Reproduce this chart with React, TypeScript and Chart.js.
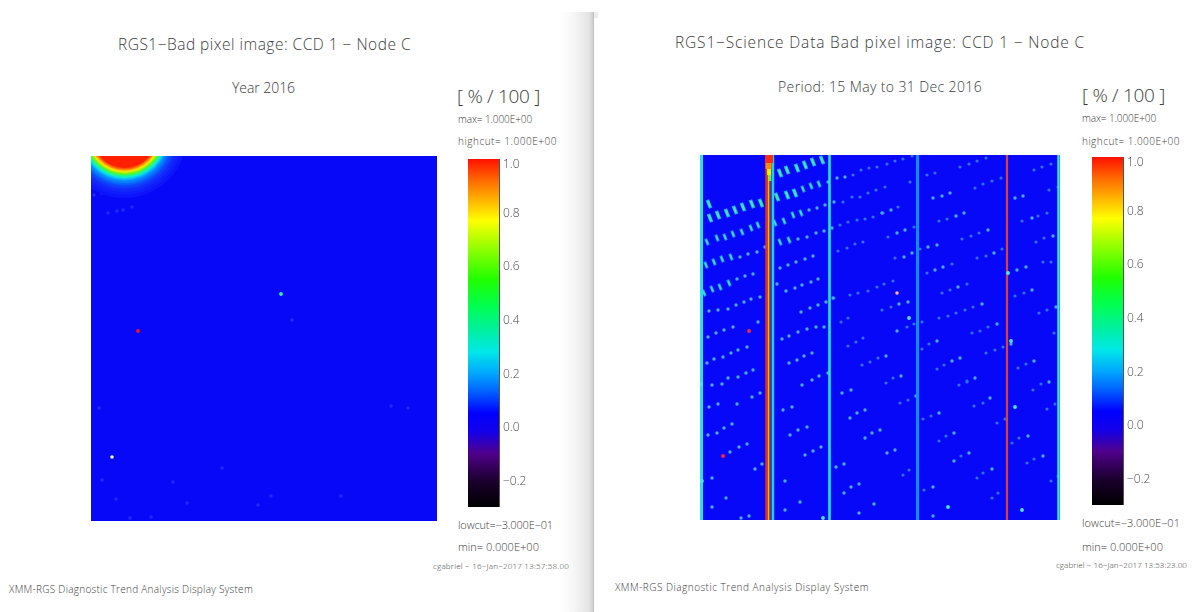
import React, { useEffect, useLayoutEffect, useRef } from "react";
import { Chart, registerables } from "chart.js";
Chart.register(...registerables);

type P = [number, number];

// ---- Colour bar
const barRange: number[] = [-0.3, 1.0];
const barTicks: number[] = [-0.2, 0, 0.2, 0.4, 0.6, 0.8, 0.982];
const barTickLabels: string[] = ["\u22120.2", "0.0", "0.2", "0.4", "0.6", "0.8", "1.0"];
const barStopValues: number[] = [-0.3, -0.2, -0.1, -0.02, 0.05, 0.13, 0.2, 0.28, 0.36, 0.45, 0.55, 0.68, 0.77, 0.85, 0.92, 1.0];
const barStopColors: string[] = ["#000000", "#1c0030", "#50008c", "#1400e8", "#0000ff", "#0060ff", "#00a8ff", "#00e8e8", "#00f0a0", "#00ff50", "#20ff00", "#a0ff00", "#ffff00", "#ffb000", "#ff6a00", "#ff1000"];

// ---- Left panel: hot-corner rings (value bands around the corner)
const ringCentre: P = [33.5, -20];
const ringRadii: number[] = [62, 59, 56, 53, 51, 49, 47, 45, 44, 43, 42, 41, 40, 39, 38, 37, 36, 35, 34, 33, 32];
const ringColors: string[] = ["#0c14fa", "#0f1cfb", "#1228fb", "#1038fb", "#0c48fc", "#0a62fd", "#0880fd", "#0898fd", "#08b4fb", "#08d0f0", "#10e8d0", "#20f4a0", "#30f870", "#50f830", "#90f010", "#d0f000", "#ffe000", "#ffb000", "#ff8000", "#ff5000", "#ff2000"];
const leftFaintSpots: P[] = [[3, 39], [11, 37], [19, 34], [26, 31], [34, 27], [42, 24], [51, 22], [59, 22], [67, 19], [75, 16], [17, 57], [26, 55], [32, 54], [41, 51], [201, 164], [167, 349], [131, 312], [82, 326], [25, 343], [96, 347], [11, 324], [8, 252], [39, 362], [60, 361], [300, 250], [317, 252], [180, 340], [250, 340]];
const leftCyanSpots: P[] = [[190, 138]];
const leftRedSpots: P[] = [[47, 175]];
const leftWhiteSpots: P[] = [[21, 301]];

// ---- Right panel: detector columns
const stripeX: number[] = [1.5, 66.5, 68.2, 69.4, 70.8, 72.8, 129.5, 217.5, 307, 358.5];
const stripeColors: string[] = ["#28e0f0", "#f03010", "#f8e000", "#f03010", "#0838f8", "#20d0e8", "#20e8b8", "#0890f4", "#e04030", "#38e8ff"];
const stripeWidths: number[] = [3, 2.4, 1.4, 1.8, 1.4, 2.8, 2.6, 3, 2.2, 2.4];
const capX: number[] = [69, 68.5, 69, 70];
const capEnd: number[] = [8, 14, 20, 26];
const capColors: string[] = ["#ff2a10", "#ff8a00", "#e8f000", "#70f040"];
const capWidths: number[] = [8, 6, 4, 2.5];

// ---- Right panel: bright slanted spots
const brightSpots: P[] = [[80, 18], [87, 15], [97, 13], [105, 10], [113, 7], [122, 5], [9, 49], [10, 63], [18, 60], [27, 58], [35, 55], [43, 52], [52, 49], [61, 48], [77, 42], [87, 40], [95, 38]];
const midSpots: P[] = [[103, 34], [111, 31], [119, 29], [7, 87], [17, 83], [25, 82], [33, 79], [42, 77], [51, 73], [58, 70], [75, 68], [84, 66], [93, 60], [101, 58], [6, 110], [14, 107], [22, 104], [31, 102], [4, 138], [12, 134], [20, 132], [29, 128], [80, 87], [89, 85]];
const softSpots: P[] = [[128, 27], [137, 23], [145, 22], [109, 55], [117, 53], [125, 50], [134, 47], [40, 102], [48, 99], [57, 97], [65, 92], [98, 84], [107, 82], [116, 78], [124, 76], [132, 73], [80, 113], [88, 110], [96, 107], [105, 104], [113, 101], [37, 124], [45, 121], [53, 119], [9, 156], [18, 155], [28, 154], [36, 150], [44, 147], [51, 144], [60, 142], [8, 182], [16, 178], [24, 175], [33, 172], [58, 167], [7, 208], [14, 204], [23, 202], [31, 198], [38, 195], [47, 192], [12, 230], [22, 229], [28, 223], [38, 222], [46, 218], [53, 215], [77, 129], [86, 136], [95, 133], [102, 130], [111, 127], [118, 124], [101, 157], [110, 153], [118, 150], [126, 147], [133, 143], [82, 184], [89, 181], [98, 177], [107, 174], [116, 172], [124, 172], [89, 208], [97, 205], [104, 201], [112, 198], [102, 230], [112, 225], [119, 221], [128, 218], [9, 252], [18, 249], [37, 249], [8, 280], [17, 278], [24, 273], [32, 269], [30, 297], [39, 292], [47, 289], [55, 314], [62, 309], [12, 323], [26, 343], [12, 352], [41, 363], [49, 361], [60, 238], [52, 242], [83, 255], [92, 252], [90, 280], [98, 275], [107, 272], [121, 292], [113, 296], [105, 300], [85, 326], [100, 347], [85, 355], [136, 312], [144, 309], [144, 338], [151, 332], [159, 329], [174, 349], [159, 358], [142, 238], [151, 235], [150, 263], [157, 258], [165, 255], [165, 283], [172, 278], [180, 275], [187, 298], [216, 241], [239, 258], [254, 278], [195, 295], [269, 298], [254, 306], [290, 243], [343, 301], [328, 281], [292, 314], [233, 332], [233, 361], [197, 176], [199, 149], [208, 147], [258, 132], [282, 149], [297, 169], [237, 186], [311, 189], [332, 135], [260, 203], [252, 206], [334, 206], [186, 201], [201, 221], [275, 223], [349, 227], [356, 152], [250, 38], [242, 41], [233, 43], [264, 58], [256, 61], [315, 43], [323, 41], [332, 63], [205, 75], [197, 78], [288, 75], [237, 90], [228, 92], [353, 81], [294, 98], [243, 112], [235, 115], [317, 115], [326, 112], [212, 98], [204, 102], [182, 58], [191, 55]];
const faintSpots: P[] = [[140, 70], [148, 67], [157, 65], [165, 64], [173, 62], [183, 58], [138, 96], [147, 93], [155, 89], [163, 87], [153, 20], [161, 15], [169, 13], [177, 12], [187, 9], [143, 47], [152, 42], [160, 42], [168, 38], [176, 35], [185, 32], [134, 143], [141, 167], [148, 163], [177, 132], [168, 136], [158, 138], [150, 140], [148, 191], [156, 187], [163, 183], [178, 203], [170, 207], [162, 210], [208, 245], [200, 248], [231, 261], [223, 264], [246, 281], [239, 286], [261, 301], [283, 248], [274, 251], [305, 264], [297, 268], [319, 283], [312, 288], [334, 304], [327, 308], [283, 318], [277, 323], [224, 335], [209, 315], [203, 320], [298, 338], [292, 343], [351, 326], [358, 321], [341, 229], [333, 235], [267, 227], [259, 230], [355, 249], [347, 254], [195, 6], [203, 4], [212, 1], [227, 20], [235, 18], [198, 52], [210, 27], [277, 6], [286, 3], [269, 9], [260, 12], [301, 23], [292, 26], [283, 29], [275, 33], [247, 64], [239, 66], [342, 12], [351, 9], [334, 15], [358, 32], [349, 35], [338, 61], [322, 66], [347, 58], [188, 82], [214, 72], [279, 78], [271, 81], [262, 84], [220, 94], [344, 83], [336, 87], [286, 101], [302, 94], [277, 103], [195, 103], [227, 118], [252, 109], [343, 107], [351, 107], [184, 129], [193, 126], [191, 152], [182, 155], [222, 167], [214, 169], [207, 172], [250, 135], [242, 138], [267, 129], [273, 152], [265, 155], [239, 163], [248, 161], [256, 158], [288, 172], [280, 176], [272, 178], [229, 189], [222, 194], [303, 192], [295, 195], [286, 198], [324, 138], [315, 141], [347, 155], [339, 158], [244, 210], [237, 214], [326, 209], [318, 213], [193, 223], [186, 228], [267, 226], [354, 178]];
const hotDots: P[] = [[248, 352], [322, 355], [209, 163], [308, 118], [315, 252], [123, 363], [311, 186], [2, 326], [1, 229]];
const redDots: P[] = [[49, 176], [23, 301]];
const pinkDots: P[] = [[197, 138]];

const pts = (list: P[]) => list.map(([x, y]) => ({ x, y }));

function dots(list: P[], color: string, radius: number) {
  return { data: pts(list), clip: 0, pointRadius: radius, pointBackgroundColor: color, pointBorderWidth: 0, pointStyle: "circle", showLine: false };
}
function slants(list: P[], color: string, radius: number, width: number) {
  return { data: pts(list), clip: 0, pointRadius: radius, pointStyle: "line", pointRotation: 68, pointBorderColor: color, pointBorderWidth: width, showLine: false };
}
function vline(x: number, y0: number, y1: number, color: string, width: number) {
  return { data: [{ x, y: y0 }, { x, y: y1 }], clip: 0, showLine: true, borderColor: color, borderWidth: width, pointRadius: 0 };
}

function panelOptions(w: number, h: number): any {
  return {
    responsive: false,
    animation: false,
    layout: { padding: 0, autoPadding: false },
    plugins: { legend: { display: false }, tooltip: { enabled: false }, title: { display: false } },
    scales: {
      x: { type: "linear", display: false, min: 0, max: w },
      y: { type: "linear", display: false, min: 0, max: h, reverse: true },
    },
  };
}

function useChart(ref: React.RefObject<HTMLCanvasElement | null>, make: () => any) {
  useEffect(() => {
    const chart = new Chart(ref.current as HTMLCanvasElement, make());
    return () => chart.destroy();
  }, []);
}

function LeftPanel() {
  const ref = useRef<HTMLCanvasElement>(null);
  useChart(ref, () => ({
    type: "scatter",
    data: {
      datasets: [
        dots(leftRedSpots, "#f00c34", 2),
        dots(leftWhiteSpots, "#f4f4c0", 1.8),
        dots(leftCyanSpots, "#38e8b0", 1.9),
        {
          data: ringRadii.map(() => ({ x: ringCentre[0], y: ringCentre[1] })),
          clip: 0,
          pointRadius: ringRadii,
          pointBackgroundColor: ringColors,
          pointBorderWidth: 0,
          showLine: false,
        },
        dots(leftFaintSpots, "#1e2cfe", 1.7),
      ],
    },
    options: panelOptions(346, 365),
  }));
  return <canvas ref={ref} width={346} height={365} style={{ position: "absolute", left: 91, top: 156, background: "#0808f8", filter: "blur(0.5px)" }} />;
}

function RightPanel() {
  const ref = useRef<HTMLCanvasElement>(null);
  useChart(ref, () => ({
    type: "scatter",
    data: {
      datasets: [
        dots(hotDots, "#48e8e8", 1.9),
        dots(redDots, "#f02840", 2),
        dots(pinkDots, "#ffb090", 1.8),
        ...capX.map((x, i) => vline(x, 0, capEnd[i], capColors[i], capWidths[i])),
        ...stripeX.map((x, i) => vline(x, 0, 365, stripeColors[i], stripeWidths[i])),
        slants(brightSpots, "#40f090", 3, 2),
        slants(brightSpots, "#20b0f8", 4.4, 3.6),
        slants(midSpots, "#38e0d0", 2.5, 1.8),
        slants(midSpots, "#1c80fc", 3.6, 3),
        dots(softSpots, "#48a8ff", 1.7),
        dots(faintSpots, "#3070ff", 1.6),
      ],
    },
    options: panelOptions(360, 365),
  }));
  return <canvas ref={ref} width={360} height={365} style={{ position: "absolute", left: 700, top: 155, background: "#0808f8", filter: "blur(0.5px)" }} />;
}

function ColourBar({ left, top, height }: { left: number; top: number; height: number }) {
  const ref = useRef<HTMLCanvasElement>(null);
  useChart(ref, () => ({
    type: "bar",
    data: {
      labels: ["value"],
      datasets: [
        {
          data: [barRange],
          barPercentage: 1,
          categoryPercentage: 1,
          backgroundColor: (c: any) => {
            const { chart } = c;
            if (!chart.chartArea) return "#000";
            const y = chart.scales.y;
            const g = chart.ctx.createLinearGradient(0, y.getPixelForValue(barRange[0]), 0, y.getPixelForValue(barRange[1]));
            barStopValues.forEach((v, i) => g.addColorStop((v - barRange[0]) / (barRange[1] - barRange[0]), barStopColors[i]));
            return g;
          },
        },
      ],
    },
    options: {
      responsive: false,
      animation: false,
      layout: { padding: 0 },
      plugins: { legend: { display: false }, tooltip: { enabled: false } },
      scales: {
        x: { display: false },
        y: {
          position: "right",
          min: barRange[0],
          max: barRange[1],
          grid: { display: false, drawTicks: false },
          border: { display: true, color: "#555555", width: 1 },
          afterBuildTicks: (s: any) => { s.ticks = barTicks.map((value) => ({ value })); },
          afterFit: (s: any) => { s.paddingTop = 0; s.paddingBottom = 0; s.width = 36; },
          ticks: {
            padding: 4,
            labelOffset: 1,
            autoSkip: false,
            color: "#4a4a4a",
            font: { family: "'Open Sans'", size: 12, weight: "300" },
            callback: (v: any) => barTickLabels[barTicks.indexOf(Number(v))],
          },
        },
      },
    },
  }));
  return <canvas ref={ref} width={67} height={height} style={{ position: "absolute", left, top }} />;
}

type Lab = { t: string; x0: number; x1: number; y: number; s: number };
const labels: Lab[] = [
  { t: "RGS1\u2212Bad pixel image: CCD 1 \u2212 Node C", x0: 118, x1: 411, y: 45, s: 15.5 },
  { t: "Year 2016", x0: 232, x1: 295, y: 88, s: 14 },
  { t: "[ % / 100 ]", x0: 457, x1: 540, y: 96, s: 19 },
  { t: "max= 1.000E+00", x0: 458, x1: 532, y: 119, s: 10 },
  { t: "highcut= 1.000E+00", x0: 458, x1: 557, y: 141, s: 10 },
  { t: "lowcut=\u22123.000E\u221201", x0: 458, x1: 553, y: 524, s: 11 },
  { t: "min= 0.000E+00", x0: 458, x1: 539, y: 546, s: 11 },
  { t: "cgabriel \u2212 16\u2212Jan\u22122017 13:57:58.00", x0: 433, x1: 569, y: 566, s: 8 },
  { t: "XMM-RGS Diagnostic Trend Analysis Display System", x0: 9, x1: 253, y: 589, s: 10 },
  { t: "RGS1\u2212Science Data Bad pixel image: CCD 1 \u2212 Node C", x0: 675, x1: 1085, y: 43, s: 15.5 },
  { t: "Period: 15 May to 31 Dec 2016", x0: 778, x1: 982, y: 87, s: 14 },
  { t: "[ % / 100 ]", x0: 1082, x1: 1165, y: 95, s: 19 },
  { t: "max= 1.000E+00", x0: 1082, x1: 1156, y: 118, s: 10 },
  { t: "highcut= 1.000E+00", x0: 1082, x1: 1180, y: 141, s: 10 },
  { t: "lowcut=\u22123.000E\u221201", x0: 1082, x1: 1180, y: 522, s: 11 },
  { t: "min= 0.000E+00", x0: 1082, x1: 1163, y: 546, s: 11 },
  { t: "cgabriel \u2212 16\u2212Jan\u22122017 13:53:23.00", x0: 1056, x1: 1187, y: 565, s: 8 },
  { t: "XMM-RGS Diagnostic Trend Analysis Display System", x0: 615, x1: 869, y: 587, s: 10 },
];

function Label({ l }: { l: Lab }) {
  const ref = useRef<HTMLDivElement>(null);
  useLayoutEffect(() => {
    const el = ref.current as HTMLDivElement;
    const w = el.getBoundingClientRect().width;
    el.style.letterSpacing = `${(l.x1 - l.x0 - w) / l.t.length}px`;
  }, []);
  return (
    <div
      ref={ref}
      style={{
        position: "absolute",
        left: l.x0,
        top: l.y,
        transform: "translateY(-50%)",
        whiteSpace: "pre",
        fontFamily: "'Open Sans', sans-serif",
        fontWeight: 300,
        fontSize: l.s,
        lineHeight: 1,
        color: "#3c3c3c",
      }}
    >
      {l.t}
    </div>
  );
}

export default function App() {
  return (
    <div style={{ position: "absolute", left: 0, top: 0, width: 1197, height: 612, background: "#fff", overflow: "hidden" }}>
      <div style={{ position: "absolute", left: 560, top: 12, width: 34, height: 600, background: "linear-gradient(90deg,#ffffff 0%,#f6f6f6 40%,#e4e4e4 85%,#cfcfcf 97%,#b4b4b4 100%)" }} />
      <div style={{ position: "absolute", left: 594, top: 12, width: 4, height: 6, background: "#ececec" }} />
      <LeftPanel />
      <RightPanel />
      <ColourBar left={468} top={159} height={348} />
      <ColourBar left={1092} top={157} height={348} />
      {labels.map((l, i) => (
        <Label key={i} l={l} />
      ))}
    </div>
  );
}
